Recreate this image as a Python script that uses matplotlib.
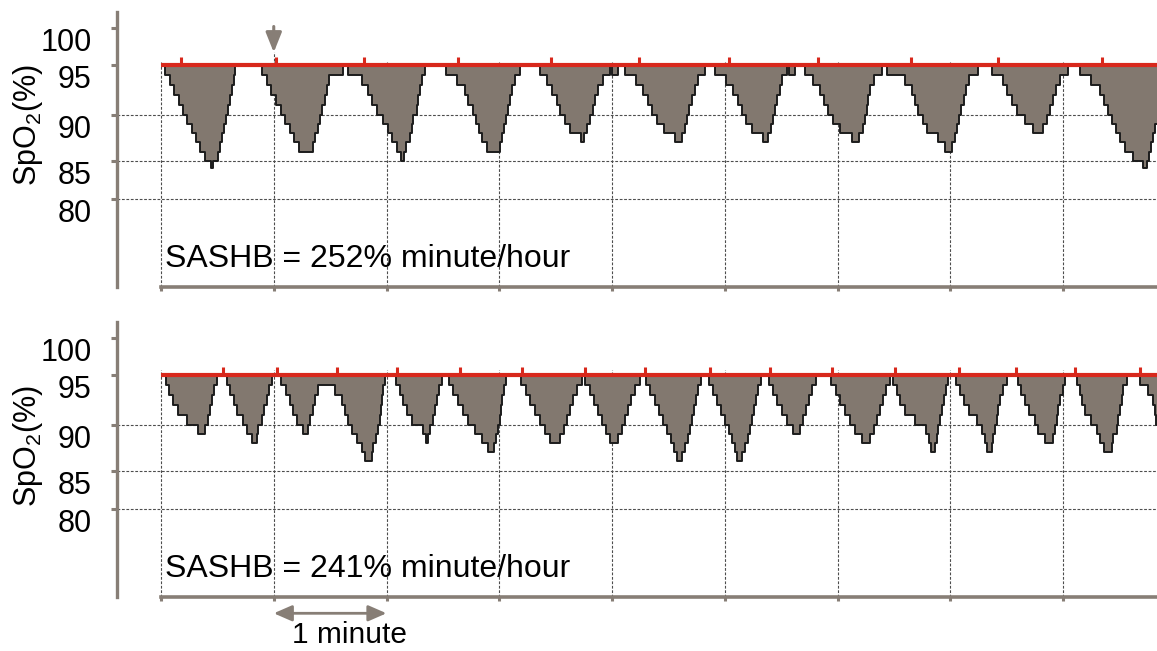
import numpy as np
import matplotlib
matplotlib.use("Agg")
import matplotlib.pyplot as plt
from matplotlib.ticker import NullLocator

plt.rcParams['font.family'] = ['Liberation Sans', 'DejaVu Sans']
plt.rcParams['mathtext.fontset'] = 'custom'
plt.rcParams['mathtext.rm'] = 'Liberation Sans'
plt.rcParams['mathtext.it'] = 'Liberation Sans:italic'
plt.rcParams['mathtext.bf'] = 'Liberation Sans:bold'
plt.rcParams['mathtext.default'] = 'regular'

# ---------------- data ----------------
BASELINE = 95
Y_TICKS = [80, 85, 90, 95, 100]
GRID_LEVELS = [80, 85, 90]
MINUTE_TICKS_S = [0, 60, 120, 180, 240, 300, 360, 420, 480]
X_END_S = 530
SASHB_LABELS = ["SASHB = 252% minute/hour", "SASHB = 241% minute/hour"]
Y_LABEL = "SpO$_2$(%)"
MARKED_EVENT_S = 60

top_time_s = [0,
    2.1, 4.8, 6.9, 9.6, 11.7, 13.8, 16.5, 18.6, 20.7, 23.4, 26.6, 27.7, 30.3, 31.4, 32.5, 33.5, 34.6, 35.6, 36.7, 37.8, 38.6, 39.4,
    53.7, 56.4, 58.5, 61.2, 63.8, 66.0, 68.6, 70.8, 73.4, 80.9, 81.9, 83.5, 84.6, 85.7, 87.2, 88.3, 89.4, 96.8,
    99.5, 106.9, 110.1, 112.2, 114.9, 118.1, 120.8, 122.9, 125.6, 127.7, 129.3, 130.3, 132.5, 133.5, 134.1, 136.2, 136.7, 137.8, 138.9, 140.4,
    151.6, 157.5, 161.7, 163.3, 166.0, 167.6, 169.2, 170.8, 173.4, 180.3, 181.4, 182.5, 183.5, 184.6, 185.7, 186.7, 188.3, 191.0,
    201.6, 205.4, 208.0, 210.7, 212.3, 214.9, 217.6, 223.4, 225.0, 226.6, 228.2, 229.8, 230.9, 232.5, 235.1, 238.9, 239.9, 243.1,
    246.8, 252.7, 256.4, 259.1, 261.2, 263.9, 267.6, 273.4, 277.2, 278.8, 279.8, 280.9, 282.5, 284.1, 285.7, 289.4,
    294.7, 300.6, 304.3, 307.0, 309.1, 311.2, 314.4, 320.3, 322.9, 324.5, 325.6, 326.6, 327.7, 329.3, 330.4, 333.0, 334.1, 337.3,
    342.6, 346.9, 350.6, 352.7, 354.8, 357.5, 361.2, 367.6, 371.3, 373.5, 374.5, 375.6, 376.1, 377.2, 379.3, 383.6,
    386.2, 395.8, 399.5, 401.1, 402.7, 405.4, 407.5, 413.4, 417.1, 420.8, 422.4, 423.5, 424.5, 425.6, 427.2, 428.3, 429.9, 434.6,
    442.1, 447.9, 450.1, 452.7, 455.4, 459.6, 463.9, 469.2, 471.4, 472.9, 474.5, 476.1, 478.3, 482.5,
    488.9, 494.8, 499.5, 501.7, 503.8, 505.9, 508.1, 510.2, 512.8, 517.1, 522.4, 524.6, 525.6, 526.7, 527.7, 528.8]
top_spo2 = [95,
    94, 93, 92, 91, 90, 89, 88, 87, 86, 85, 84, 85, 86, 87, 88, 89, 90, 91, 92, 93, 94, 95,
    94, 93, 92, 91, 90, 89, 88, 87, 86, 87, 88, 89, 90, 91, 92, 93, 94, 95,
    94, 93, 92, 91, 90, 89, 88, 87, 86, 85, 86, 87, 88, 89, 90, 91, 92, 93, 94, 95,
    94, 93, 92, 91, 90, 89, 88, 87, 86, 87, 88, 89, 90, 91, 92, 93, 94, 95,
    94, 93, 92, 91, 90, 89, 88, 87, 88, 89, 90, 91, 92, 93, 94, 95, 94, 95,
    94, 93, 92, 91, 90, 89, 88, 87, 88, 89, 90, 91, 92, 93, 94, 95,
    94, 93, 92, 91, 90, 89, 88, 87, 88, 89, 90, 91, 92, 93, 94, 95, 94, 95,
    94, 93, 92, 91, 90, 89, 88, 87, 88, 89, 90, 91, 92, 93, 94, 95,
    94, 93, 92, 91, 90, 89, 88, 87, 86, 87, 88, 89, 90, 91, 92, 93, 94, 95,
    94, 93, 92, 91, 90, 89, 88, 89, 90, 91, 92, 93, 94, 95,
    94, 93, 92, 91, 90, 89, 88, 87, 86, 85, 84, 85, 86, 87, 88, 89]
top_events_s = [10.5, 61.2, 108.0, 158.1, 207.4, 254.4, 302.3, 349.6, 398.9, 445.4, 500.7]

bottom_time_s = [0,
    2.7, 4.3, 6.4, 9.0, 13.8, 19.7, 23.4, 25.0, 26.1, 27.1, 28.2, 29.8,
    35.1, 36.7, 38.8, 40.4, 43.6, 45.8, 48.4, 51.1, 51.6, 53.7, 54.8, 56.4, 57.5, 59.0,
    63.8, 66.5, 68.6, 70.2, 72.4, 75.5, 78.2, 79.3, 80.9, 81.9, 83.5,
    92.6, 96.3, 97.9, 99.5, 101.6, 104.3, 106.9, 108.5,
    112.3, 112.8, 114.4, 115.4, 116.5, 117.0, 117.6, 118.1, 119.2,
    125.0, 127.1, 128.7, 130.9, 133.5, 139.4, 141.0, 142.0, 143.1, 144.7, 145.8, 146.8, 147.9, 149.5,
    153.2, 155.3, 158.0, 160.7, 163.3, 167.0, 170.8, 174.0, 177.2, 178.2, 179.3, 180.3, 180.9, 181.4, 182.5, 183.5,
    191.5, 194.2, 196.3, 199.0, 201.6, 204.3, 206.9, 212.3, 214.4, 216.0, 217.6, 219.2, 221.3, 224.0,
    225.6, 228.2, 230.4, 232.5, 234.6, 236.7, 238.9, 243.1, 245.3, 246.8, 248.4, 250.0, 252.2, 254.8,
    258.0, 260.1, 262.8, 264.9, 267.1, 269.2, 271.3, 272.9, 274.5, 277.2, 278.8, 280.4, 281.4, 282.5, 283.6, 284.6, 285.7, 287.3,
    291.5, 293.7, 295.8, 297.9, 300.0, 302.2, 303.8, 305.4, 306.4, 309.1, 310.7, 312.3, 313.3, 314.4, 315.5, 316.5, 317.6, 319.2,
    323.5, 325.6, 327.7, 330.4, 333.0, 336.2, 339.9, 341.5, 343.1, 344.7, 346.3, 348.5,
    356.4, 359.1, 361.2, 363.9, 366.5, 369.2, 372.9, 377.2, 379.3, 380.9, 382.5, 384.1, 385.7, 387.8,
    389.4, 391.6, 393.1, 395.8, 401.1, 407.0, 408.6, 409.6, 411.8, 412.8, 413.4, 414.4, 415.5, 416.6, 417.6, 418.7,
    422.9, 425.1, 427.2, 429.9, 434.1, 436.8, 438.4, 439.4, 442.1, 442.6, 443.7, 444.8, 445.3, 446.3, 447.9, 450.1,
    455.9, 457.5, 459.6, 461.8, 464.9, 466.6, 470.3, 474.5, 475.6, 476.7, 477.2, 478.3, 479.9, 480.9,
    487.3, 488.9, 490.0, 491.6, 494.8, 497.9, 499.5, 501.7, 505.9, 506.5, 508.6, 509.1, 510.2, 511.3, 511.8, 513.9,
    520.8, 525.1, 527.7, 528.8, 529.3]
bottom_spo2 = [95,
    94, 93, 92, 91, 90, 89, 90, 91, 92, 93, 94, 95,
    94, 93, 92, 91, 90, 89, 88, 89, 90, 91, 92, 93, 94, 95,
    94, 93, 92, 91, 90, 89, 90, 91, 92, 93, 94,
    93, 92, 91, 90, 89, 88, 87, 86,
    87, 88, 89, 90, 91, 92, 93, 94, 95,
    94, 93, 92, 91, 90, 89, 88, 89, 90, 91, 92, 93, 94, 95,
    94, 93, 92, 91, 90, 89, 88, 87, 88, 89, 90, 91, 92, 93, 94, 95,
    94, 93, 92, 91, 90, 89, 88, 89, 90, 91, 92, 93, 94, 95,
    94, 93, 92, 91, 90, 89, 88, 89, 90, 91, 92, 93, 94, 95,
    94, 93, 92, 91, 90, 89, 88, 87, 86, 87, 88, 89, 90, 91, 92, 93, 94, 95,
    94, 93, 92, 91, 90, 89, 88, 87, 86, 87, 88, 89, 90, 91, 92, 93, 94, 95,
    94, 93, 92, 91, 90, 89, 90, 91, 92, 93, 94, 95,
    94, 93, 92, 91, 90, 89, 88, 89, 90, 91, 92, 93, 94, 95,
    94, 93, 92, 91, 90, 89, 88, 87, 88, 89, 90, 91, 92, 93, 94, 95,
    94, 93, 92, 91, 90, 89, 88, 87, 88, 89, 90, 91, 92, 93, 94, 95,
    94, 93, 92, 91, 90, 89, 88, 89, 90, 91, 92, 93, 94, 95,
    94, 93, 92, 91, 90, 89, 88, 87, 88, 89, 90, 91, 92, 93, 94, 95,
    94, 93, 92, 91, 90]
bottom_events_s = [32.8, 61.5, 93.8, 125.7, 159.1, 192.1, 225.6, 257.5, 292.1,
                   324.0, 357.0, 390.5, 424.7, 454.9, 486.6, 521.2]

assert len(top_time_s) == len(top_spo2)
assert len(bottom_time_s) == len(bottom_spo2)

# ---------------- style ----------------
RED = '#d8281c'
FILL = '#82786f'
OUTLINE = '#1c1c1c'
SPINE = '#877e76'
GRID = '#4d4d4d'
DASH = (0, (2.5, 1.5))

# value -> vertical position (the chart's y axis is not evenly spaced)
SCALE_V = [60, 80, 85, 90, 95, 100, 110]
SCALE_H = [-66.7, 87.7, 126.3, 172.0, 222.0, 259.0, 333.0]


def fwd(v):
    return np.interp(v, SCALE_V, SCALE_H)


def inv(h):
    return np.interp(h, SCALE_H, SCALE_V)


YLIM = (68.64, 102.16)

fig = plt.figure(figsize=(11.57, 6.51), dpi=100)
ax_top = fig.add_axes([0.13915, 0.55914, 0.86085, 0.42243])
ax_bot = fig.add_axes([0.13915, 0.08341, 0.86085, 0.42197])

panels = [
    (ax_top, top_time_s, top_spo2, top_events_s, SASHB_LABELS[0], 0.589, 0.074),
    (ax_bot, bottom_time_s, bottom_spo2, bottom_events_s, SASHB_LABELS[1], 0.549, 0.072),
]

for ax, times, vals, events, label, ylab_y, txt_y in panels:
    ax.set_yscale('function', functions=(fwd, inv))
    ax.set_ylim(*YLIM)
    ax.set_xlim(0, X_END_S)

    t = np.array(list(times) + [X_END_S], dtype=float)
    v = np.array(list(vals) + [vals[-1]], dtype=float)
    ax.fill_between(t, v, BASELINE, step='post', facecolor=FILL,
                    edgecolor='none', linewidth=0, zorder=3)
    ax.step(t, v, where='post', color=OUTLINE, lw=1.4, zorder=4)

    ax.axhline(BASELINE, color=RED, lw=3.0, zorder=5)
    ax.vlines(events, BASELINE, 96.1, color=RED, lw=2.2, zorder=5)

    # dashed grid
    for lv in GRID_LEVELS:
        ax.plot([-44 / 996, 1], [lv, lv], transform=ax.get_yaxis_transform(),
                clip_on=False, color=GRID, lw=0.8, ls=DASH, zorder=1)
    ax.vlines(MINUTE_TICKS_S, YLIM[0], 95.6, color=GRID, lw=0.8,
              linestyles=[DASH], zorder=1, clip_on=False)

    # spines
    for s in ('top', 'right'):
        ax.spines[s].set_visible(False)
    ax.spines['left'].set_position(('outward', 31.7))
    ax.spines['left'].set_color(SPINE)
    ax.spines['left'].set_linewidth(2.4)
    ax.spines['bottom'].set_color(SPINE)
    ax.spines['bottom'].set_linewidth(2.6)

    ax.set_yticks(Y_TICKS)
    ax.set_yticklabels([str(y) for y in Y_TICKS])
    ax.yaxis.set_minor_locator(NullLocator())
    ax.tick_params(axis='y', direction='out', length=4.3, width=2.2,
                   color=SPINE, pad=14, labelsize=22, labelcolor='black')
    for lab in ax.get_yticklabels():
        lab.set_verticalalignment('top')
    ax.set_xticks(MINUTE_TICKS_S)
    ax.xaxis.set_minor_locator(NullLocator())
    ax.tick_params(axis='x', direction='out', length=3.0, width=2.2,
                   color=SPINE, labelbottom=False)

    ax.text(-0.1335, ylab_y, Y_LABEL, transform=ax.transAxes, rotation=90,
            ha='center', va='center', fontsize=22)
    ax.text(0.004, txt_y, label, transform=ax.transAxes, ha='left',
            va='baseline', fontsize=23)

# event arrow on the top panel (gridline continues up to the arrow)
ax_top.vlines([MARKED_EVENT_S], 95.6, 96.7, color=GRID, lw=0.8,
              linestyles=[DASH], zorder=1, clip_on=False)
ax_top.annotate('', xy=(MARKED_EVENT_S, 96.7), xytext=(MARKED_EVENT_S, 100.2),
                arrowprops=dict(arrowstyle='-|>,head_length=0.6,head_width=0.24',
                                color=SPINE, lw=2.2, shrinkA=0, shrinkB=0,
                                mutation_scale=20),
                annotation_clip=False)

# 1 minute scale arrow
xt = ax_bot.get_xaxis_transform()
ax_bot.annotate('', xy=(60, -0.0604), xycoords=xt, xytext=(120, -0.0604),
                textcoords=xt,
                arrowprops=dict(arrowstyle='<|-|>,head_length=0.55,head_width=0.24',
                                color=SPINE, lw=2.0, shrinkA=0, shrinkB=0,
                                mutation_scale=20),
                annotation_clip=False)
ax_bot.text(100.5, -0.170, '1 minute', transform=xt, ha='center',
            va='baseline', fontsize=21.5)

fig.savefig('out.png', dpi=100)
